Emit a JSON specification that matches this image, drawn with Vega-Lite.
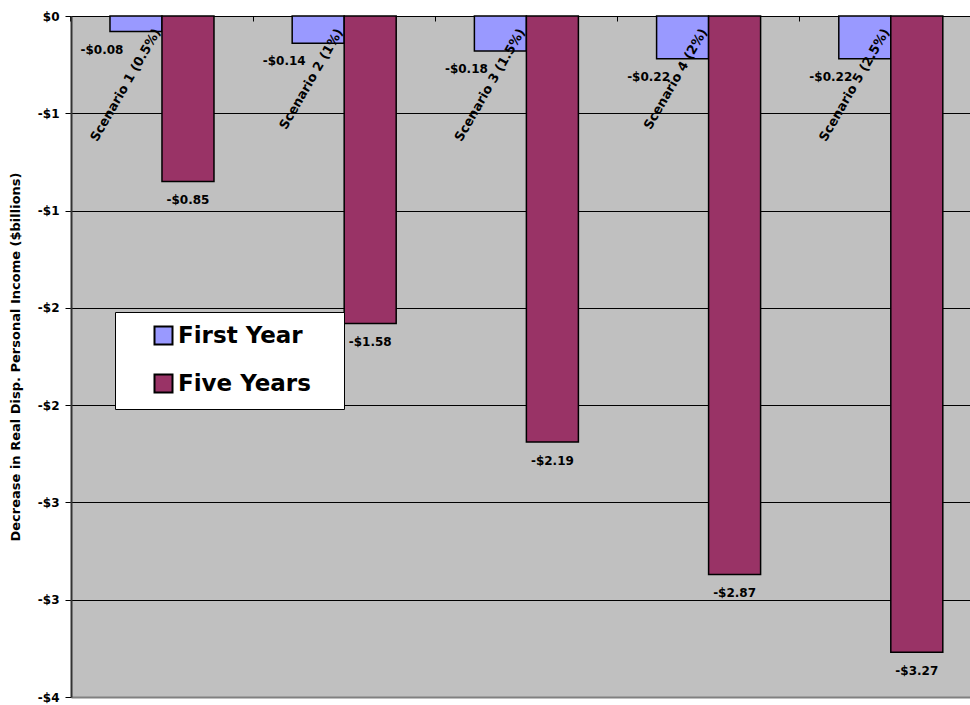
{
  "$schema": "https://vega.github.io/schema/vega-lite/v6.json",
  "width": 899,
  "height": 681,
  "autosize": {"type": "none"},
  "padding": {"left": 71, "top": 16, "right": 0, "bottom": 8},
  "background": "white",
  "config": {
    "view": {"fill": "#C0C0C0", "stroke": null},
    "font": "DejaVu Sans"
  },
  "data": {
    "values": [
      {"scenario": "Scenario 1 (0.5%)", "series": "First Year", "value": -0.08},
      {"scenario": "Scenario 1 (0.5%)", "series": "Five Years", "value": -0.85},
      {"scenario": "Scenario 2 (1%)", "series": "First Year", "value": -0.14},
      {"scenario": "Scenario 2 (1%)", "series": "Five Years", "value": -1.58},
      {"scenario": "Scenario 3 (1.5%)", "series": "First Year", "value": -0.18},
      {"scenario": "Scenario 3 (1.5%)", "series": "Five Years", "value": -2.19},
      {"scenario": "Scenario 4 (2%)", "series": "First Year", "value": -0.22},
      {"scenario": "Scenario 4 (2%)", "series": "Five Years", "value": -2.87},
      {"scenario": "Scenario 5 (2.5%)", "series": "First Year", "value": -0.22},
      {"scenario": "Scenario 5 (2.5%)", "series": "Five Years", "value": -3.27}
    ]
  },
  "transform": [
    {"calculate": "'-$' + format(-datum.value, '.2f')", "as": "label"}
  ],
  "encoding": {
    "x": {
      "field": "scenario",
      "type": "nominal",
      "sort": null,
      "scale": {"paddingInner": 0.4292, "paddingOuter": 0.1816, "align": 0.589},
      "axis": {
        "orient": "top",
        "title": null,
        "labels": false,
        "domain": true,
        "domainColor": "black",
        "domainWidth": 1,
        "ticks": true,
        "tickColor": "black",
        "tickSize": -5,
        "tickWidth": 1,
        "bandPosition": -0.376,
        "grid": false
      }
    },
    "y": {
      "field": "value",
      "type": "quantitative",
      "scale": {"domain": [-3.5, 0], "nice": false, "zero": false},
      "axis": {
        "values": [0, -0.5, -1, -1.5, -2, -2.5, -3, -3.5],
        "labelExpr": "datum.value == 0 ? '$0' : '-$' + round(-datum.value)",
        "title": "Decrease in Real Disp. Personal Income ($billions)",
        "titleFont": "DejaVu Sans",
        "titleFontWeight": "bold",
        "titleFontSize": 13,
        "titleColor": "black",
        "titlePadding": 15,
        "labelFont": "DejaVu Sans",
        "labelFontWeight": "bold",
        "labelFontSize": 12,
        "labelColor": "black",
        "labelPadding": 6,
        "tickSize": 6,
        "tickColor": "black",
        "tickWidth": 1,
        "domainColor": "#333333",
        "domainWidth": 2,
        "grid": true,
        "gridColor": {"condition": {"test": "datum.value == -3.5", "value": "#808080"}, "value": "black"},
        "gridWidth": {"condition": {"test": "datum.value == -3.5", "value": 2}, "value": 1},
        "gridOpacity": 1
      }
    }
  },
  "layer": [
    {
      "mark": {"type": "bar", "stroke": "black", "strokeWidth": 1.5},
      "encoding": {
        "xOffset": {"field": "series", "type": "nominal", "scale": {"paddingInner": 0, "paddingOuter": 0}},
        "color": {
          "field": "series",
          "type": "nominal",
          "scale": {"domain": ["First Year", "Five Years"], "range": ["#9999FF", "#993366"]},
          "legend": {
            "orient": "none",
            "legendX": 44,
            "legendY": 296,
            "title": " ",
            "titleOrient": "right",
            "titlePadding": 21,
            "titleFontSize": 1,
            "fillColor": "white",
            "strokeColor": "black",
            "padding": 12,
            "symbolType": "square",
            "symbolSize": 324,
            "symbolStrokeColor": "black",
            "symbolStrokeWidth": 2,
            "symbolOpacity": 1,
            "symbolOffset": 25,
            "labelOffset": 3,
            "labelFont": "DejaVu Sans",
            "labelFontWeight": "bold",
            "labelFontSize": 23,
            "labelColor": "black",
            "rowPadding": 21
          }
        }
      }
    },
    {
      "transform": [{"filter": "datum.series == 'Five Years'"}],
      "mark": {"type": "text", "font": "DejaVu Sans", "fontWeight": "bold", "fontSize": 12, "color": "black", "baseline": "middle", "align": "center", "dy": 19},
      "encoding": {
        "xOffset": {"field": "series", "type": "nominal"},
        "text": {"field": "label"}
      }
    },
    {
      "transform": [{"filter": "datum.series == 'First Year'"}],
      "mark": {"type": "text", "font": "DejaVu Sans", "fontWeight": "bold", "fontSize": 12, "color": "black", "baseline": "middle", "align": "center", "dy": 18, "dx": -34},
      "encoding": {
        "xOffset": {"field": "series", "type": "nominal"},
        "text": {"field": "label"}
      }
    },
    {
      "transform": [{"filter": "datum.series == 'First Year'"}],
      "mark": {"type": "text", "font": "DejaVu Sans", "fontWeight": "bold", "fontSize": 12.8, "color": "black", "baseline": "middle", "align": "right", "angle": -60, "dx": -14, "dy": 3},
      "encoding": {
        "y": {"datum": 0},
        "text": {"field": "scenario"}
      }
    }
  ]
}
